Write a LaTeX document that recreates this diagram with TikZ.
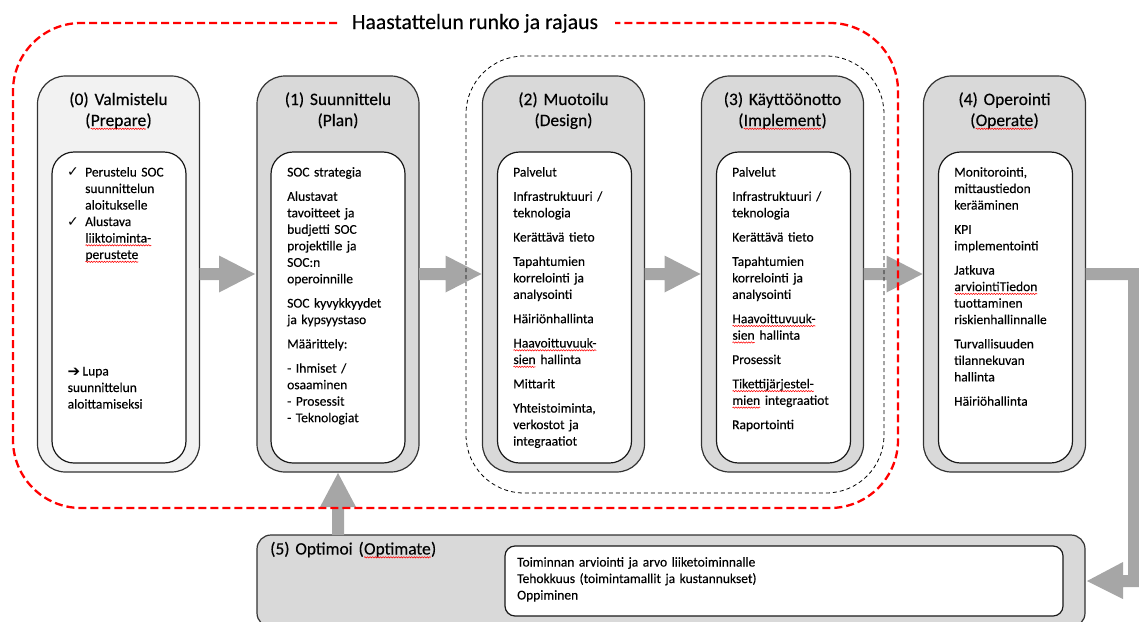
\documentclass[tikz,border=0pt]{standalone}
\usepackage{fontspec}
\setmainfont{Carlito}[FakeBold=0.25]
\newfontfamily\symfont{DejaVu Sans}
\usetikzlibrary{calc,decorations.pathmorphing}

\definecolor{boxgray}{HTML}{D9D9D9}
\definecolor{boxlight}{HTML}{F2F2F2}
\definecolor{edgegray}{HTML}{333333}
\definecolor{arrowgray}{HTML}{A6A6A6}
\definecolor{framered}{HTML}{FF0000}

\newcommand\bodyfont{\fontsize{13.5}{16.5}\selectfont}
\newcommand\headfont{\fontsize{17.4}{21}\selectfont}
\newcommand\titlefont{\fontsize{21.7}{26}\selectfont}

% word with a wavy red underline
\newcommand\spell[1]{\tikz[baseline=(sw.base)]{%
  \node[inner sep=0pt,outer sep=0pt,text width={},anchor=base west,draw=none,fill=none] (sw) {#1};
  \draw[spellwave] ([yshift=-2.8pt]sw.base west) -- ([yshift=-2.8pt]sw.base east);}}

% fat grey arrow pointing right, from the tail anchor to the tip anchor
\newcommand\rightblock[2]{%
  \fill[blockarrow] let \p1=(#1), \p2=(#2) in
    (\x1,{\y1+6pt}) -- ({\x2-36pt},{\y1+6pt}) -- ({\x2-36pt},{\y1+18.5pt})
    -- (\x2,\y1) -- ({\x2-36pt},{\y1-18.5pt}) -- ({\x2-36pt},{\y1-6pt})
    -- (\x1,{\y1-6pt}) -- cycle;}

\newcommand\gap{\\[7.8pt]}
\newcommand\tick{{\symfont\fontsize{14}{16.5}\selectfont ✓}}

\begin{document}
\begin{tikzpicture}[x=1pt,y=-1pt,
  outerbox/.style={draw=edgegray,line width=1.2pt,fill=boxgray,rounded corners=28pt,
    minimum width=162pt,minimum height=396pt,inner sep=0pt,outer sep=0pt},
  innerbox/.style={draw=black!90,line width=1.2pt,fill=white,rounded corners=22pt,
    minimum width=134pt,minimum height=311pt,inner sep=0pt,outer sep=0pt},
  head/.style={font=\headfont,text width=170pt,align=center,anchor=base,inner sep=0pt},
  body/.style={font=\bodyfont,text width=150pt,align=left,anchor=base west,inner sep=0pt},
  blockarrow/.style={fill=arrowgray},
  spellwave/.style={draw=red,line width=0.55pt,decorate,
    decoration={snake,amplitude=0.65pt,segment length=2.6pt}},
  redframe/.style={draw=framered,line width=2.3pt,dash pattern=on 8pt off 4pt,rounded corners=68pt},
  phaseframe/.style={draw=black,line width=0.8pt,dash pattern=on 4pt off 3pt,rounded corners=58pt},
]
\useasboundingbox (0,0) rectangle (1139,621);

% ---- phase boxes ----
\node[outerbox,fill=boxlight] (b0) at (118.5,274) {};
\node[outerbox] (b1) at (338,274) {};
\node[outerbox] (b2) at (563.5,274) {};
\node[outerbox] (b3) at (782.5,274) {};
\node[outerbox] (b4) at (1004.5,274) {};

\node[innerbox] (i0) at (119,307.5) {};
\node[innerbox] (i1) at (338,307.5) {};
\node[innerbox] (i2) at (564.5,307.5) {};
\node[innerbox] (i3) at (783.5,307.5) {};
\node[innerbox] (i4) at (1005.5,307.5) {};

% ---- optimisation box ----
\node[outerbox,minimum width=828pt,minimum height=92pt,rounded corners=14pt] (b5) at (671,581) {};
\node[innerbox,minimum width=558pt,minimum height=70pt,rounded corners=10pt] (i5) at (784,581) {};

% ---- headings ----
\node[head] (h0) at (118.5,105) {(0) Valmistelu\\(\spell{Prepare})};
\node[head] (h1) at (338,105) {(1) Suunnittelu\\(Plan)};
\node[head] (h2) at (563.5,105) {(2) Muotoilu\\(Design)};
\node[head] (h3) at (782.5,105) {(3) Käyttöönotto\\(\spell{Implement})};
\node[head] (h4) at (1004.5,105) {(4) Operointi\\(\spell{Operate})};
\node[head,anchor=base west,align=left,text width=300pt] (h5) at (270,554.5) {(5) Optimoi (\spell{Optimate})};

% ---- contents ----
\node[body] (k0a) at (67,176.5) {\tick};
\node[body] (k0b) at (67,226) {\tick};
\node[body] (t0) at (85,176.5) {Perustelu SOC\\suunnittelun\\aloitukselle\\Alustava\\\spell{liiktoiminta-}\\\spell{perustete}};
\node[body] (t0b) at (67.5,375.5) {\raisebox{-0.6pt}{\symfont\fontsize{15}{16.5}\selectfont ➔}\,Lupa\\suunnittelun\\aloittamiseksi};

\node[body] (t1) at (287,176.5) {SOC strategia\gap
  Alustavat\\tavoitteet ja\\budjetti SOC\\projektille ja\\SOC:n\\operoinnille\gap
  SOC kyvykkyydet\\ja kypsyystaso\gap
  Määrittely:\gap
  - Ihmiset /\\osaaminen\\- Prosessit\\- Teknologiat};

\node[body] (t2) at (513,176.5) {Palvelut\gap
  Infrastruktuuri /\\teknologia\gap
  Kerättävä tieto\gap
  Tapahtumien\\korrelointi ja\\analysointi\gap
  Häiriönhallinta\gap
  \spell{Haavoittuvuuk-}\\\spell{sien} hallinta\gap
  Mittarit\gap
  Yhteistoiminta,\\verkostot ja\\integraatiot};

\node[body] (t3) at (732,176.5) {Palvelut\gap
  Infrastruktuuri /\\teknologia\gap
  Kerättävä tieto\gap
  Tapahtumien\\korrelointi ja\\analysointi\gap
  \spell{Haavoittuvuuk-}\\\spell{sien} hallinta\gap
  Prosessit\gap
  \spell{Tikettijärjestel-}\\\spell{mien} integraatiot\gap
  Raportointi};

\node[body] (t4) at (954,176.5) {Monitorointi,\\mittaustiedon\\kerääminen\gap
  KPI\\implementointi\gap
  Jatkuva\\\spell{arviointiTiedon}\\tuottaminen\\riskienhallinnalle\gap
  Turvallisuuden\\tilannekuvan\\hallinta\gap
  Häiriöhallinta};

\node[body,text width=400pt] (t5) at (517,566.5) {Toiminnan arviointi ja arvo liiketoiminnalle\\Tehokkuus (toimintamallit ja kustannukset)\\Oppiminen};

% ---- flow arrows ----
\rightblock{b0.east}{[xshift=-2pt]b1.west}
\rightblock{b1.east}{[xshift=-1pt]b2.west}
\rightblock{b2.east}{[xshift=-1pt]b3.west}
\rightblock{b3.east}{[xshift=-1pt]b4.west}

% operate -> optimise, around the right side
\fill[blockarrow] let \p1=(b4.east), \p2=(b5.east) in
  (\x1,{\y1+6pt}) -- (1141,268) -- (1141,587) -- (1123,587) -- (1123,599)
  -- ({\x2+2pt},\y2) -- (1123,562) -- (1123,575) -- (1128,575) -- (1128,280)
  -- (\x1,{\y1-6pt}) -- cycle;

% optimise -> plan
\fill[blockarrow] let \p1=(b1.south), \p2=(b5.north) in
  ({\x1-6pt},\y2) -- ({\x1-6pt},{\y1-35pt}) -- ({\x1-18pt},{\y1-35pt})
  -- (\x1,{\y1-1pt}) -- ({\x1+18pt},{\y1-35pt}) -- ({\x1+6pt},{\y1-35pt})
  -- ({\x1+6pt},\y2) -- cycle;

% ---- frames ----
\draw[phaseframe] (466,56) rectangle (884,493);
\draw[redframe] (337,23) -- (13,23) -- (13,508) -- (898,508) -- (898,23) -- (615,23);
\node[font=\titlefont,anchor=base,inner sep=0pt] (title) at (475,29) {Haastattelun runko ja rajaus};

\end{tikzpicture}
\end{document}
